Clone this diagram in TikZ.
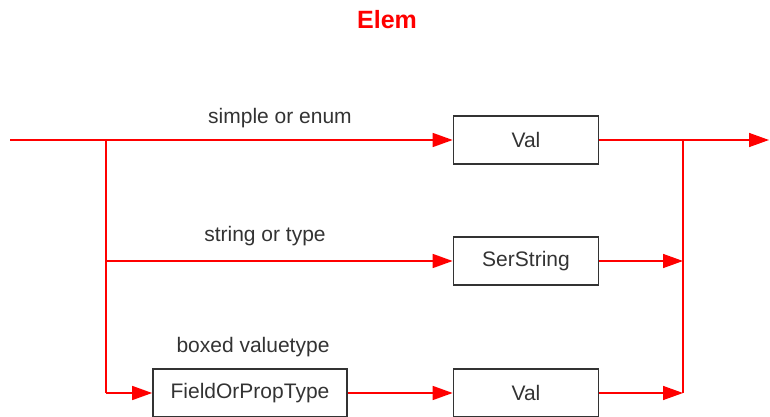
\documentclass[tikz,border=0pt]{standalone}
\usepackage{fontspec}
\setmainfont{Liberation Sans}
\usetikzlibrary{arrows.meta}

\begin{document}
\begin{tikzpicture}[
  x=1pt,
  y=-1pt,
]

  \tikzstyle{valnode}=[draw=black!80,rectangle,line width=1.7pt,minimum height=48pt,minimum width=145pt,inner sep=0pt,text=black!80,font=\fontsize{21}{24}\selectfont]
  \tikzstyle{labnode}=[text=black!80,font=\fontsize{21}{24}\selectfont]
  \tikzstyle{titlenode}=[text=red,font=\fontsize{25}{28}\selectfont\bfseries]

  \tikzstyle{wire}=[draw=red,line width=1.5pt]
  \tikzstyle{pointer}=[wire,-{Triangle[length=20pt,width=14pt]}]

  \useasboundingbox (0,0) rectangle (770,417);

  % nodes
  \node[titlenode] (title) at (387,20) {Elem};

  \coordinate (in) at (10,140);
  \coordinate (split1) at (106,140);
  \coordinate (split2) at (106,261);
  \coordinate (split3) at (106,393);
  \coordinate (join1) at (683,140);
  \coordinate (join2) at (683,261);
  \coordinate (join3) at (683,393);
  \coordinate (out) at (769,140);

  \node[valnode] (val1) at (526,140) {Val};
  \node[valnode] (ser) at (526,261) {SerString};
  \node[valnode,minimum width=194pt] (fop) at (250,393) {FieldOrPropType};
  \node[valnode] (val2) at (526,393) {Val};

  \node[labnode] (lab1) at (280,118) {simple or enum};
  \node[labnode] (lab2) at (265,236) {string or type};
  \node[labnode] (lab3) at (253,347) {boxed valuetype};

  % pointers
  \draw[wire]    (in)     -- (split1);
  \draw[wire]    (split1) -- (split3);
  \draw[pointer] (split1) -- (val1);
  \draw[pointer] (val1)   -- (out);
  \draw[wire]    (join1)  -- (join3);

  \draw[pointer] (split2) -- (ser);
  \draw[pointer] (ser)    -- (join2);

  \draw[pointer] (split3) -- (fop);
  \draw[pointer] (fop)    -- (val2);
  \draw[pointer] (val2)   -- (join3);

\end{tikzpicture}
\end{document}
